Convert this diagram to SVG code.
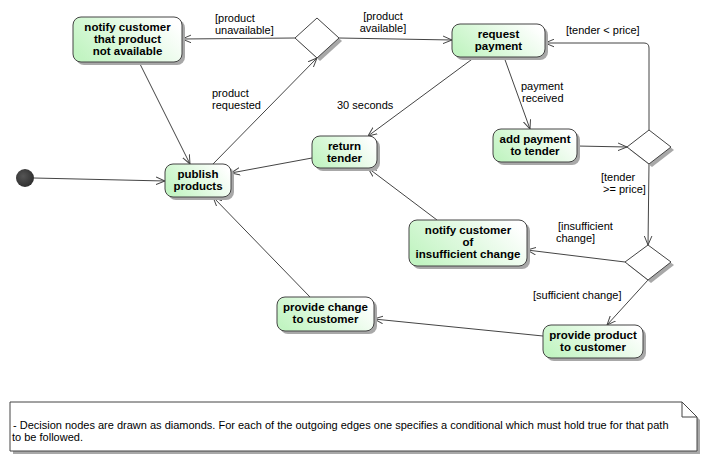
<svg xmlns="http://www.w3.org/2000/svg" width="707" height="457" viewBox="0 0 707 457">
<defs>
<linearGradient id="g" x1="0" y1="0.7" x2="1" y2="0.3">
<stop offset="0" stop-color="#c2f4c2"/>
<stop offset="1" stop-color="#ffffff"/>
</linearGradient>
<radialGradient id="gi" cx="0.4" cy="0.4" r="0.7">
<stop offset="0" stop-color="#555"/>
<stop offset="1" stop-color="#2a2a2a"/>
</radialGradient>
<marker id="a" viewBox="0 0 10 10" refX="10" refY="5" markerWidth="9" markerHeight="9" orient="auto" markerUnits="userSpaceOnUse">
<path d="M0,0.8 L10,5 L0,9.2" fill="none" stroke="#444" stroke-width="1.1"/>
</marker>
</defs>
<style>
.box{fill:url(#g);stroke:#444;stroke-width:1}
.sh{fill:#a8a8a8}
.dia{fill:#fff;stroke:#444;stroke-width:1}
.t{font-family:"Liberation Sans",Arial,sans-serif;font-size:11.5px;font-weight:bold;fill:#000;text-anchor:middle}
.l{font-family:"Liberation Sans",Arial,sans-serif;font-size:11px;fill:#000}
.e{fill:none;stroke:#444;stroke-width:1;marker-end:url(#a)}
</style>
<rect width="707" height="457" fill="#fff"/>

<g id="connectors">
<path class="e" d="M34,178 L165,181"/>
<path class="e" d="M139,62 L190,164"/>
<path class="e" d="M213,164 L317,58"/>
<path class="e" d="M295,38 L182,39"/>
<path class="e" d="M339,38 L452,40"/>
<path class="e" d="M475,57 L368,136"/>
<path class="e" d="M504,57 L530,129"/>
<path class="e" d="M577,146 L627,147"/>
<path class="e" d="M649,130 L649,48 Q649,43 644,43 L545,43"/>
<path class="e" d="M649,164 L648,245"/>
<path class="e" d="M625,262 L527,250"/>
<path class="e" d="M648,280 L607,325"/>
<path class="e" d="M543,336 L374,319"/>
<path class="e" d="M310,297 L213,197"/>
<path class="e" d="M437,220 L368,168"/>
<path class="e" d="M312,158 L231,173"/>
<text class="l" x="215" y="22">[product</text>
<text class="l" x="215" y="34">unavailable]</text>
<text class="l" x="383" y="20" text-anchor="middle">[product</text>
<text class="l" x="383" y="32" text-anchor="middle">available]</text>
<text class="l" x="212" y="97">product</text>
<text class="l" x="212" y="109">requested</text>
<text class="l" x="337" y="109">30 seconds</text>
<text class="l" x="521" y="90">payment</text>
<text class="l" x="522" y="102">received</text>
<text class="l" x="566" y="34">[tender &lt; price]</text>
<text class="l" x="601" y="181">[tender</text>
<text class="l" x="603" y="193">&gt;= price]</text>
<text class="l" x="558" y="230">[insufficient</text>
<text class="l" x="556" y="242">change]</text>
<text class="l" x="533" y="299">[sufficient change]</text>
</g>

<g id="initial">
<circle cx="25" cy="178" r="9" fill="url(#gi)"/>
</g>

<g id="notify_not_available">
<rect class="sh" x="76" y="20" width="109" height="45" rx="8"/>
<rect class="box" x="73" y="17" width="109" height="45" rx="8"/>
<text class="t" x="127.5" y="31">notify customer</text>
<text class="t" x="127.5" y="43">that product</text>
<text class="t" x="127.5" y="55">not available</text>
</g>

<g id="decision_product">
<polygon class="sh" points="298,41 320,21 342,41 320,61"/>
<polygon class="dia" points="295,38 317,18 339,38 317,58"/>
</g>

<g id="request_payment">
<rect class="sh" x="455" y="27" width="93" height="33" rx="8"/>
<rect class="box" x="452" y="24" width="93" height="33" rx="8"/>
<text class="t" x="498.5" y="38">request</text>
<text class="t" x="498.5" y="50">payment</text>
</g>

<g id="publish_products">
<rect class="sh" x="168" y="167" width="66" height="33" rx="8"/>
<rect class="box" x="165" y="164" width="66" height="33" rx="8"/>
<text class="t" x="198" y="178">publish</text>
<text class="t" x="198" y="190">products</text>
</g>

<g id="return_tender">
<rect class="sh" x="315" y="139" width="65" height="32" rx="8"/>
<rect class="box" x="312" y="136" width="65" height="32" rx="8"/>
<text class="t" x="344.5" y="150">return</text>
<text class="t" x="344.5" y="162">tender</text>
</g>

<g id="add_payment">
<rect class="sh" x="496" y="132" width="84" height="33" rx="8"/>
<rect class="box" x="493" y="129" width="84" height="33" rx="8"/>
<text class="t" x="535" y="143">add payment</text>
<text class="t" x="535" y="155">to tender</text>
</g>

<g id="decision_tender">
<polygon class="sh" points="630,150 652,133 674,150 652,167"/>
<polygon class="dia" points="627,147 649,130 671,147 649,164"/>
</g>

<g id="notify_insufficient">
<rect class="sh" x="412" y="223" width="118" height="46" rx="8"/>
<rect class="box" x="409" y="220" width="118" height="46" rx="8"/>
<text class="t" x="468" y="234">notify customer</text>
<text class="t" x="468" y="246">of</text>
<text class="t" x="468" y="258">insufficient change</text>
</g>

<g id="decision_change">
<polygon class="sh" points="628,265 651,248 674,265 651,283"/>
<polygon class="dia" points="625,262 648,245 671,262 648,280"/>
</g>

<g id="provide_product">
<rect class="sh" x="546" y="328" width="100" height="33" rx="8"/>
<rect class="box" x="543" y="325" width="100" height="33" rx="8"/>
<text class="t" x="593" y="339">provide product</text>
<text class="t" x="593" y="351">to customer</text>
</g>

<g id="provide_change">
<rect class="sh" x="280" y="300" width="97" height="34" rx="8"/>
<rect class="box" x="277" y="297" width="97" height="34" rx="8"/>
<text class="t" x="325.5" y="311">provide change</text>
<text class="t" x="325.5" y="323">to customer</text>
</g>

<g id="note">
<path class="sh" d="M13,405 L685,405 L700,420 L700,454 L13,454 Z"/>
<path d="M10,402 L682,402 L697,417 L697,451 L10,451 Z" fill="#fff" stroke="#444" stroke-width="1"/>
<path d="M682,402 L682,417 L697,417" fill="none" stroke="#444" stroke-width="1"/>
<text class="l" x="13" y="429">- Decision nodes are drawn as diamonds. For each of the outgoing edges one specifies a conditional which must hold true for that path</text>
<text class="l" x="12" y="441">to be followed.</text>
</g>
</svg>
